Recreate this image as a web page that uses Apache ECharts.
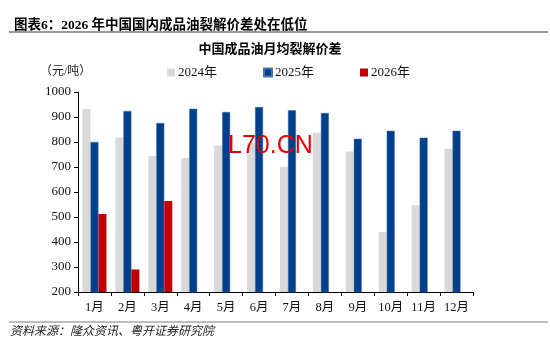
<!DOCTYPE html>
<html><head><meta charset="utf-8">
<script src="https://cdn.jsdelivr.net/npm/echarts@6/dist/echarts.min.js"></script>
<style>html,body{margin:0;padding:0;background:#fff}#c{width:550px;height:351px}</style>
</head><body><div id="c"></div>
<script>
const categories = ['1月','2月','3月','4月','5月','6月','7月','8月','9月','10月','11月','12月'];
const s2024 = [932, 818, 745, 736, 786, 795, 700, 838, 762, 440, 547, 773];
const s2025 = [800, 924, 876, 933, 920, 940, 927, 916, 813, 845, 817, 845];
const s2026 = [512, 290, 564, null, null, null, null, null, null, null, null, null];
const yTicks = {min: 200, max: 1000, interval: 100};

const FONT = '"Liberation Serif", "Times New Roman", "Noto Sans CJK SC", serif';
const chart = echarts.init(document.getElementById('c'));
chart.setOption({
  animation: false,
  textStyle: {fontFamily: FONT},
  title: [
    {text: '图表6：2026 年中国国内成品油裂解价差处在低位', left: 9, top: 14,
     textStyle: {fontFamily: FONT, fontSize: 13.5, fontWeight: 'bold', color: '#000'}},
    {text: '中国成品油月均裂解价差', left: 265, textAlign: 'center', top: 38,
     textStyle: {fontFamily: FONT, fontSize: 13, fontWeight: 'bold', color: '#000'}}
  ],
  graphic: [
    {type: 'line', shape: {x1: 9, y1: 32, x2: 548, y2: 32}, style: {stroke: '#9a9a9a', lineWidth: 2}},
    {type: 'line', shape: {x1: 9, y1: 322, x2: 548, y2: 322}, style: {stroke: '#bdbdbd', lineWidth: 2}},
    {type: 'text', left: 10, top: 326, style: {text: '资料来源：隆众资讯、粤开证券研究院', fontFamily: FONT, fontSize: 12, fontStyle: 'italic', fill: '#222'}},
    {type: 'text', left: 40, top: 66, style: {text: '（元/吨）', fontFamily: FONT, fontSize: 12, fill: '#222'}},
    {type: 'text', left: 228, top: 134, z: 100, style: {text: 'L70.CN', fontFamily: 'Liberation Sans, Arial, sans-serif', fontSize: 25, fill: '#e60000'}}
  ],
  legend: {
    top: 61, left: 162, itemWidth: 8, itemHeight: 8, itemGap: 46, icon: 'rect',
    textStyle: {fontFamily: FONT, fontSize: 13, color: '#111', padding: [0, 0, 0, -2]},
    data: ['2024年', '2025年', '2026年']
  },
  grid: {left: 78, right: 77, top: 92, bottom: 59},
  xAxis: {
    type: 'category', data: categories,
    axisLine: {lineStyle: {color: '#000', width: 1}},
    axisTick: {show: true, length: 4, lineStyle: {color: '#000'}},
    axisLabel: {fontFamily: FONT, fontSize: 12.5, color: '#111', margin: 9, interval: 0}
  },
  yAxis: {
    type: 'value', min: yTicks.min, max: yTicks.max, interval: yTicks.interval,
    splitLine: {show: false},
    axisLine: {show: true, lineStyle: {color: '#000'}},
    axisTick: {show: true, length: 4, lineStyle: {color: '#000'}},
    axisLabel: {fontFamily: FONT, fontSize: 13, color: '#111', margin: 7, formatter: v => String(v)}
  },
  series: [
    {name: '2024年', type: 'bar', data: s2024, barWidth: 8, barGap: '0%', itemStyle: {color: '#d9d9d9'}},
    {name: '2025年', type: 'bar', data: s2025, barWidth: 8, barGap: '0%', itemStyle: {color: '#003f8a', borderColor: '#4a73b0', borderWidth: 0.5}},
    {name: '2026年', type: 'bar', data: s2026, barWidth: 8, barGap: '0%', itemStyle: {color: '#c00000'}}
  ]
});
</script></body></html>
